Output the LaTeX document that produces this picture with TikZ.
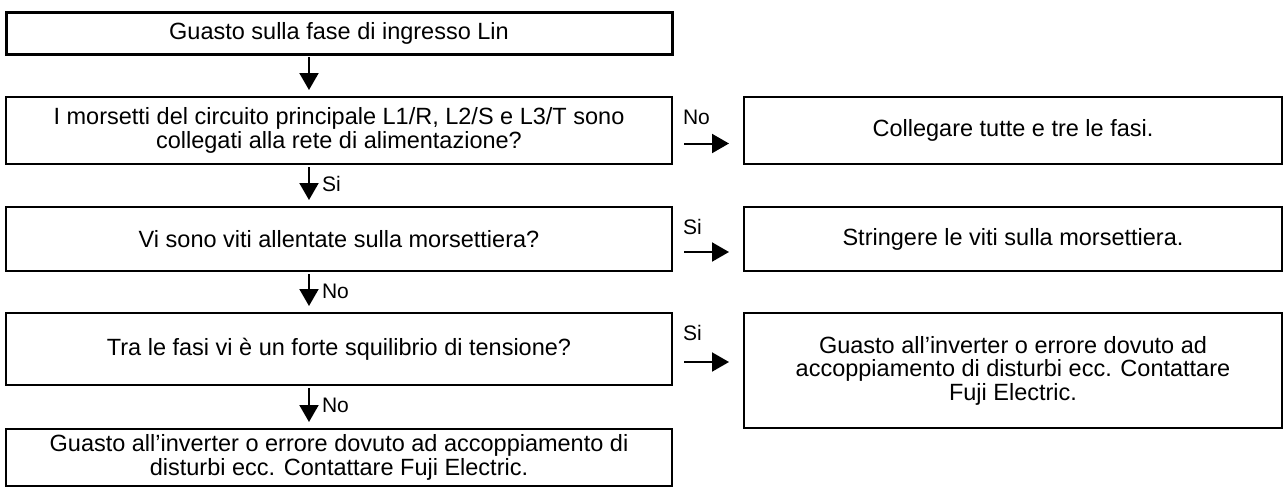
\documentclass[tikz,border=0pt]{standalone}
\usepackage{fontspec}
\setmainfont{Liberation Sans}
\usetikzlibrary{arrows.meta}
\tikzset{
  box/.style={draw, line width=1.2pt, align=center, inner sep=0pt, outer sep=0pt,
    font=\fontsize{23.5}{23.5}\selectfont},
  leftbox/.style={box, minimum width=666pt},
  rightbox/.style={box, minimum width=538pt},
  lbl/.style={font=\fontsize{21}{24}\selectfont, inner sep=0pt, outer sep=0pt},
  flow/.style={line width=2pt, -{Triangle[width=19pt,length=17pt]}},
}
\begin{document}
\begin{tikzpicture}[x=1pt,y=-1pt]
\useasboundingbox (0,0) rectangle (1285,488);
\node[leftbox, line width=3pt, minimum height=42pt] (b1) at (339,33) {Guasto sulla fase di ingresso Lin};
\node[leftbox, minimum height=67pt] (b2) at (339,130.5) {I morsetti del circuito principale L1/R, L2/S e L3/T sono\\collegati alla rete di alimentazione?};
\node[leftbox, minimum height=64pt] (b3) at (339,239) {Vi sono viti allentate sulla morsettiera?};
\node[leftbox, minimum height=72pt] (b4) at (339,349) {Tra le fasi vi è un forte squilibrio di tensione?};
\node[leftbox, minimum height=57pt] (b5) at (339,457.5) {Guasto all’inverter o errore dovuto ad accoppiamento di\\disturbi ecc. Contattare Fuji Electric.};
\node[rightbox, minimum height=67pt] (r1) at (1013,130.5) {Collegare tutte e tre le fasi.};
\node[rightbox, minimum height=64pt] (r2) at (1013,239) {Stringere le viti sulla morsettiera.};
\node[rightbox, minimum height=115pt] (r3) at (1013,370.5) {Guasto all’inverter o errore dovuto ad\\accoppiamento di disturbi ecc. Contattare\\Fuji Electric.};

\draw[flow, shorten <=3pt, shorten >=7pt] ([xshift=-30pt]b1.south) -- ([xshift=-30pt]b2.north);
\draw[flow, shorten <=3pt, shorten >=7pt] ([xshift=-30pt]b2.south) -- ([xshift=-30pt]b3.north);
\draw[flow, shorten <=3pt, shorten >=7pt] ([xshift=-30pt]b3.south) -- ([xshift=-30pt]b4.north);
\draw[flow, shorten <=3pt, shorten >=7pt] ([xshift=-30pt]b4.south) -- ([xshift=-30pt]b5.north);

\draw[flow, shorten <=12pt, shorten >=15pt] ([yshift=-13pt]b2.east) -- ([yshift=-13pt]r1.west);
\draw[flow, shorten <=12pt, shorten >=15pt] ([yshift=-13pt]b3.east) -- ([yshift=-13pt]r2.west);
\draw[flow, shorten <=12pt, shorten >=15pt] ([yshift=-13pt]b4.east) -- ([yshift=-13pt]b4.east -| r3.west);

\node[lbl, anchor=base west] (s1) at ([xshift=-17pt, yshift=-27pt]b2.south) {Si};
\node[lbl, anchor=base west] (s2) at ([xshift=-17pt, yshift=-27pt]b3.south) {No};
\node[lbl, anchor=base west] (s3) at ([xshift=-17pt, yshift=-27pt]b4.south) {No};
\node[lbl, anchor=base west] (h1) at ([xshift=11pt, yshift=-27pt]b2.north east) {No};
\node[lbl, anchor=base west] (h2) at ([xshift=11pt, yshift=-27pt]b3.north east) {Si};
\node[lbl, anchor=base west] (h3) at ([xshift=11pt, yshift=-27pt]b4.north east) {Si};
\end{tikzpicture}
\end{document}
